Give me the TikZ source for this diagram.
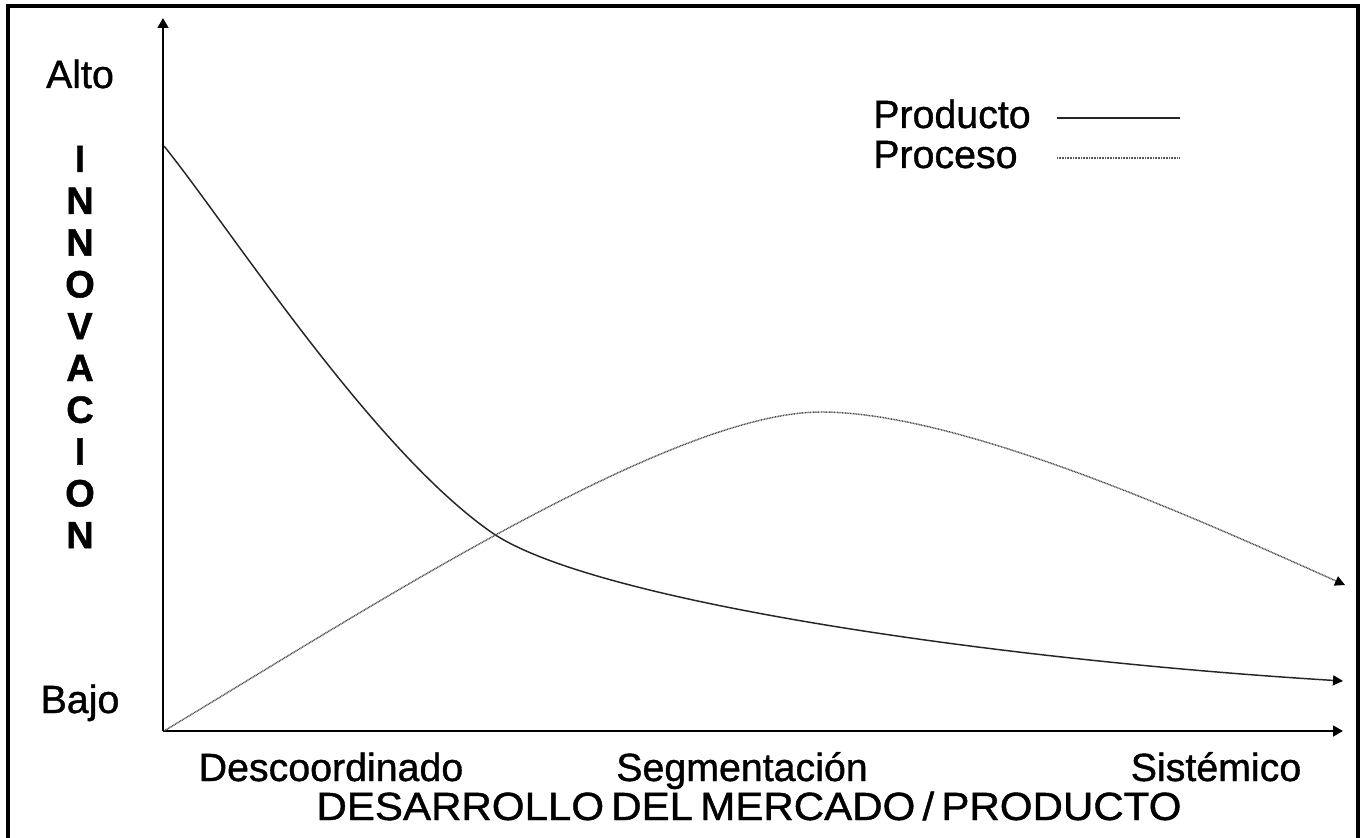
\documentclass[tikz,border=0pt]{standalone}
\usepackage{fontspec}
\setmainfont{Liberation Sans}[FakeBold=1.2]
\newfontfamily\heavy{Liberation Sans}[FakeBold=1.0]
\usetikzlibrary{arrows.meta}
\begin{document}
\begin{tikzpicture}[x=0.75pt,y=-0.75pt,
  lbl/.style={font=\heavy\fontsize{29.5}{32}\selectfont, inner sep=0pt, anchor=base},
  letter/.style={font=\bfseries\fontsize{28.5}{30}\selectfont, inner sep=0pt, anchor=base},
  frame/.style={line width=3pt},
  axis/.style={line width=2.2pt, -{Triangle[length=7.5pt,width=8pt]}},
  prod/.style={line width=1.1pt, black!85, -{Triangle[length=7.5pt,width=7.5pt,fill=black,color=black]}},
  proc/.style={line width=1.1pt, black!70, dash pattern=on 0.7pt off 0.5pt, -{Triangle[length=7.5pt,width=7.5pt,fill=black,color=black]}},
  legprod/.style={line width=1.1pt, black!85},
  legproc/.style={line width=1.1pt, black!65, dash pattern=on 0.7pt off 0.5pt}]
\useasboundingbox (0,0) rectangle (1361,838);
\fill[white] (0,0) rectangle (1361,838);
% frame (bottom edge lies outside the picture)
\draw[frame] (8,850) -- (8,6.5) -- (1358,6.5) -- (1358,850);
% axes
\coordinate (o) at (163,731);
\coordinate (ytip) at (163,18);
\coordinate (xtip) at (1343,731);
\draw[axis] (o) -- (ytip);
\draw[axis] (o) -- (xtip);
% curves
\coordinate (prodstart) at (164,146);
\coordinate (prodmid) at (491,532);
\coordinate (prodend) at (1343,681);
\coordinate (procstart) at (164,731);
\coordinate (procpeak) at (821,412);
\coordinate (procend) at (1345,585);
\draw[prod] (prodstart) .. controls (230,228) and (371,448) .. (prodmid)
  .. controls (591,602) and (1000,660) .. (prodend);
\draw[proc] (procstart) .. controls (364,611) and (671,412) .. (procpeak)
  .. controls (961,412) and (1200,520) .. (procend);
% y labels
\node[lbl] (alto) at (80,88) {Alto};
\node[lbl] (bajo) at (80,713) {Bajo};
\foreach \ch [count=\i from 0] in {I,N,N,O,V,A,C,I,O,N}
  \node[letter] (l\i) at (80,{172+41.8*\i}) {\ch};
% x labels
\node[lbl] (desc) at (331,781) {Descoordinado};
\node[lbl] (segm) at (742,781) {Segmentación};
\node[lbl] (sist) at (1216,781) {Sistémico};
\node[lbl] (xtitle) at (749,820) {\scalebox{1.07}[1]{\spaceskip=0.17em DESARROLLO DEL MERCADO / PRODUCTO}};
% legend
\node[lbl, anchor=base west] (lprod) at (873,128) {Producto};
\node[lbl, anchor=base west] (lproc) at (873,168) {Proceso};
\coordinate (lp1) at (1057,118);
\coordinate (lp2) at (1180,118);
\coordinate (lq1) at (1057,158);
\coordinate (lq2) at (1180,158);
\draw[legprod] (lp1) -- (lp2);
\draw[legproc] (lq1) -- (lq2);
\end{tikzpicture}
\end{document}
